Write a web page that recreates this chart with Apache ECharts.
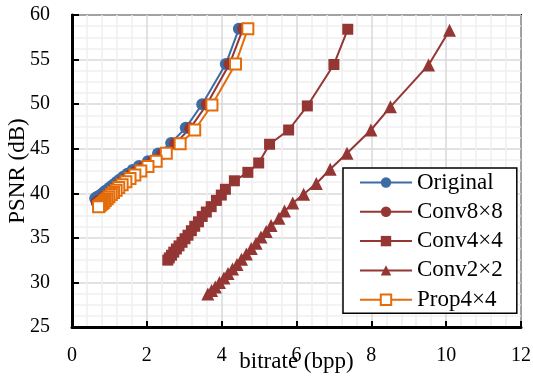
<!DOCTYPE html>
<html>
<head>
<meta charset="utf-8">
<script src="https://cdn.jsdelivr.net/npm/echarts@6/dist/echarts.min.js"></script>
<style>
  html, body { margin: 0; padding: 0; background: #fff; }
  #chart { width: 533px; height: 385px; }
</style>
</head>
<body>
<div id="chart"></div>
<script>
// Rate–distortion curves: bitrate (bpp) vs. PSNR (dB)
const seriesNames = ['Original', 'Conv8×8', 'Conv4×4', 'Conv2×2', 'Prop4×4'];

const original = [
  [4.46, 58.45], [4.11, 54.5], [3.48, 50.0], [3.04, 47.35], [2.65, 45.65], [2.30, 44.45],
  [2.03, 43.6], [1.79, 43.05], [1.62, 42.6], [1.48, 42.2], [1.37, 41.85], [1.28, 41.55],
  [1.20, 41.3], [1.13, 41.05], [1.07, 40.85], [1.01, 40.65], [0.96, 40.45], [0.91, 40.3],
  [0.86, 40.15], [0.82, 40.0], [0.78, 39.85], [0.74, 39.75], [0.70, 39.65], [0.66, 39.55],
  [0.62, 39.45]
];

const conv8x8 = [
  [4.57, 58.45], [4.21, 54.5], [3.60, 49.95], [3.16, 47.3], [2.76, 45.6], [2.41, 44.4],
  [2.14, 43.55], [1.90, 42.95], [1.72, 42.45], [1.58, 42.05], [1.46, 41.7], [1.36, 41.35],
  [1.27, 41.05], [1.20, 40.8], [1.13, 40.55], [1.07, 40.3], [1.01, 40.1], [0.96, 39.9],
  [0.91, 39.75], [0.86, 39.6], [0.82, 39.45], [0.78, 39.3], [0.74, 39.2], [0.70, 39.1],
  [0.66, 39.0]
];

const conv4x4 = [
  [7.37, 58.4], [7.00, 54.45], [6.29, 49.8], [5.79, 47.1], [5.28, 45.5], [4.99, 43.4],
  [4.70, 42.35], [4.34, 41.4], [4.10, 40.45], [3.99, 39.8], [3.86, 39.2], [3.72, 38.5],
  [3.59, 37.9], [3.48, 37.4], [3.38, 36.8], [3.28, 36.3], [3.19, 35.8], [3.10, 35.3],
  [3.02, 34.9], [2.94, 34.5], [2.86, 34.1], [2.79, 33.75], [2.72, 33.4], [2.66, 33.05],
  [2.60, 32.75], [2.56, 32.5]
];

const conv2x2 = [
  [10.09, 58.3], [9.53, 54.4], [8.51, 49.7], [7.99, 47.1], [7.35, 44.5], [6.90, 42.7],
  [6.53, 41.1], [6.19, 39.9], [5.90, 38.9], [5.68, 38.0], [5.53, 37.2], [5.32, 36.4],
  [5.19, 35.7], [5.05, 35.1], [4.92, 34.4], [4.79, 33.8], [4.66, 33.2], [4.53, 32.6],
  [4.41, 32.0], [4.29, 31.5], [4.17, 31.0], [4.06, 30.5], [3.94, 30.0], [3.83, 29.5],
  [3.73, 29.1], [3.63, 28.7]
];

const prop4x4 = [
  [4.70, 58.45], [4.37, 54.5], [3.74, 49.9], [3.28, 47.1], [2.89, 45.55], [2.52, 44.5],
  [2.25, 43.6], [2.03, 43.0], [1.84, 42.5], [1.68, 42.05], [1.55, 41.65], [1.44, 41.3],
  [1.34, 40.95], [1.25, 40.65], [1.18, 40.35], [1.11, 40.1], [1.05, 39.85], [0.99, 39.6],
  [0.94, 39.4], [0.89, 39.2], [0.85, 39.0], [0.81, 38.85], [0.77, 38.7], [0.74, 38.6],
  [0.71, 38.5]
];

const xTicks = { min: 0, max: 12, interval: 2 };
const yTicks = { min: 25, max: 60, interval: 5 };

const BLUE = '#3D6CA3';
const RED = '#943634';
const ORANGE = '#E46C0A';
const FONT = 'Liberation Serif';

function lineSeries(name, data, color, symbol, size, open) {
  return {
    name: name,
    type: 'line',
    data: data,
    symbol: symbol,
    symbolSize: size,
    showAllSymbol: true,
    lineStyle: { color: color, width: 2 },
    itemStyle: open
      ? { color: '#ffffff', borderColor: color, borderWidth: 2 }
      : { color: color, borderColor: color, borderWidth: 0 },
    emphasis: { disabled: true },
    animation: false
  };
}

const chart = echarts.init(document.getElementById('chart'), null, { renderer: 'canvas' });

chart.setOption({
  backgroundColor: '#ffffff',
  animation: false,
  grid: {
    left: 72, right: 12, top: 15, bottom: 58,
    containLabel: false,
    outerBoundsMode: 'none',
    show: true, borderColor: '#000', borderWidth: 2, backgroundColor: 'transparent'
  },
  legend: {
    data: seriesNames,
    orient: 'vertical',
    left: 343, top: 168,
    padding: [3, 14, 2, 16],
    itemWidth: 52, itemHeight: 13, itemGap: 6.3,
    borderColor: '#000', borderWidth: 1.5,
    backgroundColor: '#fff',
    textStyle: { fontFamily: FONT, fontSize: 23, color: '#000', lineHeight: 22, padding: [0, 0, 0, 0] },
    selectedMode: false
  },
  xAxis: {
    type: 'value',
    min: xTicks.min, max: xTicks.max, interval: xTicks.interval,
    name: 'bitrate (bpp)',
    nameLocation: 'middle',
    nameGap: 23,
    nameMoveOverlap: false,
    nameTextStyle: { fontFamily: FONT, fontSize: 23, color: '#000' },
    axisLine: { show: true, onZero: false, lineStyle: { color: '#000', width: 3 } },
    axisTick: { show: true, inside: true, length: 6, lineStyle: { color: '#000', width: 2 } },
    axisLabel: { fontFamily: FONT, fontSize: 20, color: '#000', margin: 19 },
    splitLine: { show: true, lineStyle: { color: '#D9D9D9', width: 1.5 } },
    minorTick: { show: false, splitNumber: 5 },
    minorSplitLine: { show: true, lineStyle: { color: '#EFEFEF', width: 1.5 } }
  },
  yAxis: {
    type: 'value',
    min: yTicks.min, max: yTicks.max, interval: yTicks.interval,
    name: 'PSNR (dB)',
    nameLocation: 'middle',
    nameGap: 43,
    nameRotate: 90,
    nameMoveOverlap: false,
    nameTextStyle: { fontFamily: FONT, fontSize: 23, color: '#000' },
    axisLine: { show: true, onZero: false, lineStyle: { color: '#000', width: 3 } },
    axisTick: { show: true, inside: true, length: 7, lineStyle: { color: '#000', width: 2 } },
    axisLabel: { fontFamily: FONT, fontSize: 20, color: '#000', margin: 22 },
    splitLine: { show: true, lineStyle: { color: '#D9D9D9', width: 1.5 } },
    minorTick: { show: false, splitNumber: 4 },
    minorSplitLine: { show: true, lineStyle: { color: '#EFEFEF', width: 1.5 } }
  },
  series: [
    lineSeries(seriesNames[0], original, BLUE, 'circle', 12, false),
    lineSeries(seriesNames[1], conv8x8, RED, 'circle', 12, false),
    lineSeries(seriesNames[2], conv4x4, RED, 'rect', 11, false),
    lineSeries(seriesNames[3], conv2x2, RED, 'triangle', 13, false),
    lineSeries(seriesNames[4], prop4x4, ORANGE, 'rect', 11, true)
  ]
});
</script>
</body>
</html>
